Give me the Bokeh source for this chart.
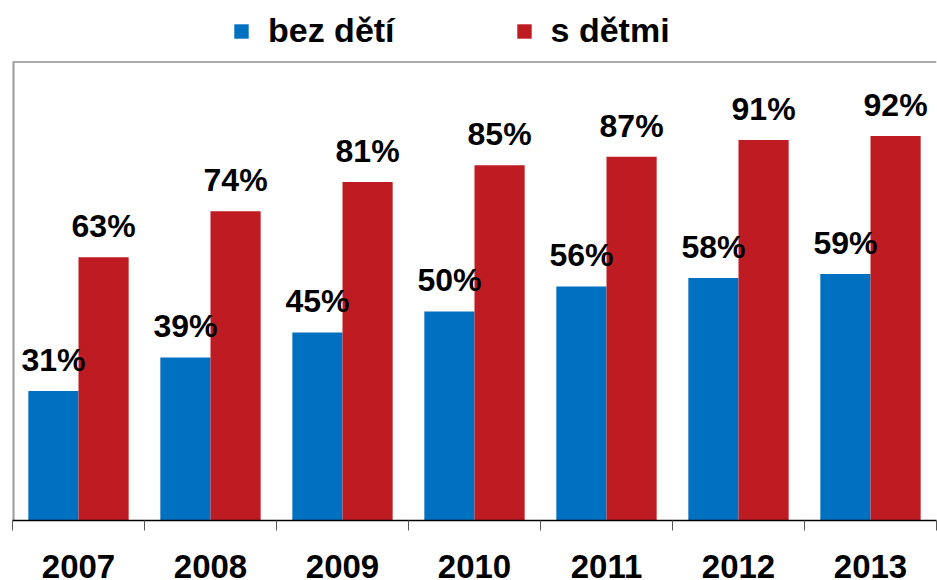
from bokeh.plotting import figure
from bokeh.models import (ColumnDataSource, Range1d, FixedTicker, Legend, LegendItem, LabelSet)
from bokeh.core.properties import value
from bokeh.embed import file_html
from bokeh.resources import INLINE

years = ["2007", "2008", "2009", "2010", "2011", "2012", "2013"]
bez_deti = [31, 39, 45, 50, 56, 58, 59]
s_detmi = [63, 74, 81, 85, 87, 91, 92]

BLUE = "#0070C0"
RED = "#BE1B23"
FONT = "Liberation Sans"

idx = list(range(1, len(years) + 1))
off = 0.19
w = 0.38
Y_TOP = 109.7      # top of the drawn plot box
Y_MAX = 124.4      # frame extends above to hold the legend

src_b = ColumnDataSource(dict(x=[i - off for i in idx], top=bez_deti,
                              lab=[f"{v}%" for v in bez_deti]))
src_s = ColumnDataSource(dict(x=[i + off for i in idx], top=s_detmi,
                              lab=[f"{v}%" for v in s_detmi]))

p = figure(width=937, height=580, output_backend="svg", toolbar_location=None,
           x_range=Range1d(0.5, 7.5), y_range=Range1d(0, Y_MAX),
           y_axis_location=None, min_border_left=12, min_border_right=1,
           min_border_bottom=14, min_border_top=0)
p.outline_line_color = None
p.xgrid.visible = False
p.ygrid.visible = False
p.background_fill_color = "white"
p.border_fill_color = "white"

rb = p.vbar(x="x", top="top", width=w, source=src_b, fill_color=BLUE, line_color=None)
rs = p.vbar(x="x", top="top", width=w, source=src_s, fill_color=RED, line_color=None)

for src in (src_b, src_s):
    p.add_layout(LabelSet(x="x", y="top", text="lab", source=src, text_align="center",
                          text_baseline="alphabetic", y_offset=20,
                          text_font=value(FONT), text_font_style="bold",
                          text_font_size="32px", text_color="black"))

p.segment(x0=[0.5], y0=[0], x1=[0.5], y1=[Y_TOP], line_color="#999999", line_width=4)
p.segment(x0=[0.5], y0=[Y_TOP], x1=[7.5], y1=[Y_TOP], line_color="#aaaaaa", line_width=2)

ax = p.xaxis[0]
ax.ticker = FixedTicker(ticks=idx, minor_ticks=[i - 0.5 for i in idx] + [idx[-1] + 0.5])
ax.major_label_overrides = {i: y for i, y in zip(idx, years)}
ax.major_tick_line_color = None
ax.minor_tick_out = 10
ax.minor_tick_in = 0
ax.minor_tick_line_color = "#555555"
ax.axis_line_color = "black"
ax.axis_line_width = 1.5
ax.major_label_standoff = 24
ax.major_label_text_font = FONT
ax.major_label_text_font_style = "bold"
ax.major_label_text_font_size = "33px"
ax.major_label_text_color = "black"

legend = Legend(items=[LegendItem(label="bez dětí", renderers=[rb]),
                       LegendItem(label="s dětmi", renderers=[rs])],
                orientation="horizontal", location=(220, 470),
                glyph_width=18, glyph_height=18, label_standoff=18, spacing=120,
                padding=0, margin=0, border_line_color=None,
                background_fill_alpha=0,
                label_text_font=FONT, label_text_font_style="bold",
                label_text_font_size="34px", label_text_color="black")
p.add_layout(legend, "center")

open("out.html", "w").write(file_html(p, INLINE))
